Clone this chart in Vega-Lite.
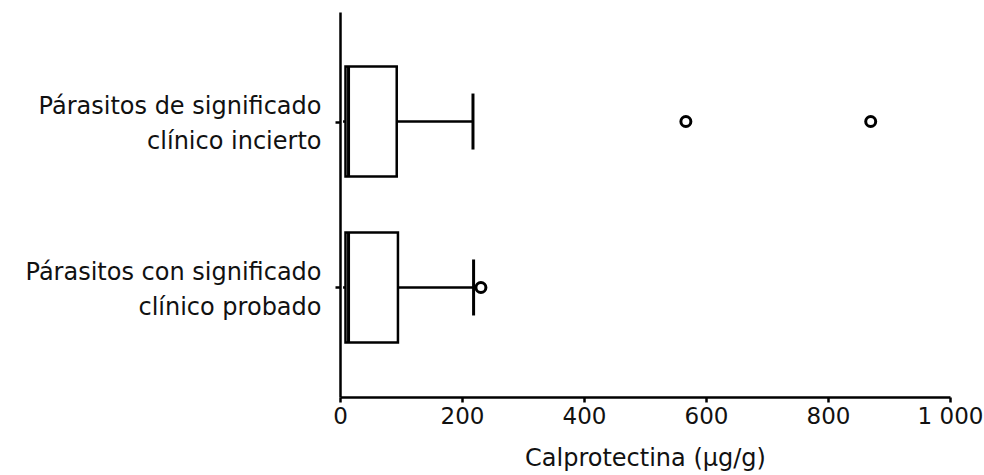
{
  "$schema": "https://vega.github.io/schema/vega-lite/v6.json",
  "autosize": "none",
  "padding": {"left": 340, "top": 12, "right": 34, "bottom": 78},
  "width": 610,
  "height": 385,
  "background": "white",
  "datasets": {
    "boxes": [
      {"grupo": "Párasitos de significado|clínico incierto", "min": 5, "q1": 9, "mediana": 14, "q3": 93, "max": 218},
      {"grupo": "Párasitos con significado|clínico probado", "min": 5, "q1": 9, "mediana": 14, "q3": 95, "max": 219}
    ],
    "atipicos": [
      {"grupo": "Párasitos de significado|clínico incierto", "valor": 567},
      {"grupo": "Párasitos de significado|clínico incierto", "valor": 870},
      {"grupo": "Párasitos con significado|clínico probado", "valor": 231}
    ]
  },
  "config": {
    "view": {"stroke": null},
    "font": "DejaVu Sans",
    "axis": {"grid": false, "domainColor": "black", "tickColor": "black", "labelColor": "#111", "titleColor": "#111", "labelFont": "DejaVu Sans", "titleFont": "DejaVu Sans"}
  },
  "encoding": {
    "y": {
      "field": "grupo", "type": "nominal",
      "sort": ["Párasitos de significado|clínico incierto", "Párasitos con significado|clínico probado"],
      "scale": {"type": "point", "padding": 0.66},
      "axis": {"title": null, "labelExpr": "split(datum.label, '|')", "labelFontSize": 24, "labelLineHeight": 35, "labelOffset": -15, "labelPadding": 14, "tickSize": 5, "tickWidth": 2.5, "domainWidth": 2.5, "labelLimit": 400}
    }
  },
  "layer": [
    {
      "data": {"name": "boxes"},
      "mark": {"type": "rule", "color": "black", "strokeWidth": 2.5},
      "encoding": {
        "x": {"field": "q3", "type": "quantitative", "scale": {"domain": [0, 1000], "nice": false},
          "axis": {"title": "Calprotectina (µg/g)", "values": [0, 200, 400, 600, 800, 1000], "labelExpr": "datum.value == 1000 ? '1 000' : datum.label", "labelFontSize": 23, "titleFontSize": 24, "titleFontWeight": "normal", "tickSize": 5, "tickWidth": 2.5, "domainWidth": 2.5, "labelPadding": 3, "titlePadding": 18, "labelFlush": false}},
        "x2": {"field": "max"}
      }
    },
    {
      "data": {"name": "boxes"},
      "mark": {"type": "rule", "color": "black", "strokeWidth": 2.5},
      "encoding": {
        "x": {"field": "min", "type": "quantitative"},
        "x2": {"field": "q1"}
      }
    },
    {
      "data": {"name": "boxes"},
      "mark": {"type": "bar", "size": 110, "fill": "white", "stroke": "black", "strokeWidth": 2.5},
      "encoding": {
        "x": {"field": "q1", "type": "quantitative"},
        "x2": {"field": "q3"}
      }
    },
    {
      "data": {"name": "boxes"},
      "mark": {"type": "tick", "color": "black", "size": 110, "thickness": 3, "orient": "vertical", "opacity": 1},
      "encoding": {
        "x": {"field": "mediana", "type": "quantitative"}
      }
    },
    {
      "data": {"name": "boxes"},
      "mark": {"type": "tick", "color": "black", "size": 56, "thickness": 3, "orient": "vertical", "opacity": 1},
      "encoding": {
        "x": {"field": "max", "type": "quantitative"}
      }
    },
    {
      "data": {"name": "atipicos"},
      "mark": {"type": "point", "shape": "circle", "filled": false, "fill": "white", "stroke": "black", "strokeWidth": 3, "size": 100, "opacity": 1},
      "encoding": {
        "x": {"field": "valor", "type": "quantitative"}
      }
    }
  ]
}
